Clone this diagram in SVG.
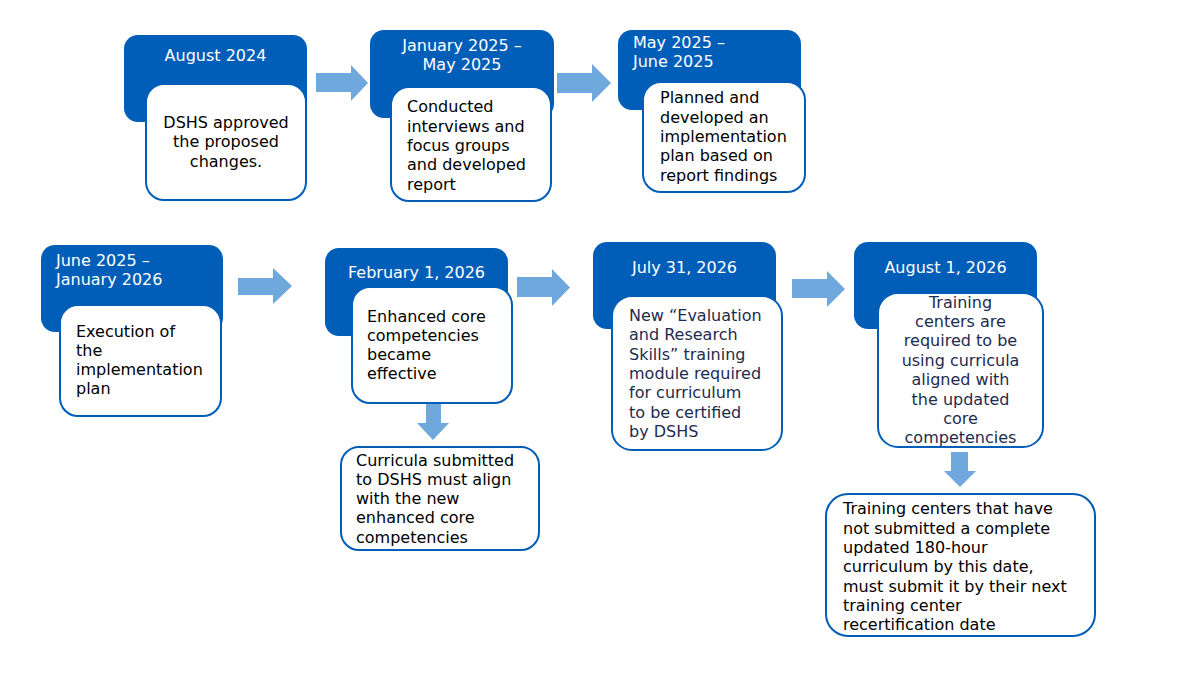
<svg xmlns="http://www.w3.org/2000/svg" width="1182" height="674" viewBox="0 0 1182 674">
<style>
.hdr{fill:#005EB8;}
.box{fill:#FFFFFF;stroke:#005EB8;stroke-width:2;}
.arr{fill:#6FA8DC;}
text{font-family:"DejaVu Sans","Verdana","Liberation Sans",sans-serif;font-size:16px;}
.t{fill:#FFFFFF;}
.b{fill:#000000;}
.n{fill:#1D2B4F;}
.c{text-anchor:middle;}
</style>
<rect width="1182" height="674" fill="#FFFFFF"/>
<g id="connectors">
<polygon class="arr" points="316,73 351,73 351,65 368,83 351,101 351,92 316,92"/>
<polygon class="arr" points="557,73 592,73 592,64 611,83 592,102 592,93 557,93"/>
<polygon class="arr" points="238,278 273,278 273,268 292,286 273,304 273,295 238,295"/>
<polygon class="arr" points="517,277 552,277 552,269 570,287.5 552,306 552,297 517,297"/>
<polygon class="arr" points="792,279 827,279 827,271 845,289 827,307 827,298 792,298"/>
<polygon class="arr" points="426,404 441,404 441,423 449,423 433,440 417,423 426,423"/>
<polygon class="arr" points="951,452 968,452 968,471 976,471 960,487 944,471 951,471"/>
</g>
<g id="node-aug2024">
<rect class="hdr" x="124" y="35" width="183" height="87" rx="14"/>
<rect class="box" x="146" y="84" width="160" height="116" rx="18"/>
<text class="t c" x="215.5" y="61">August 2024</text>
<text class="b c" x="226"><tspan x="226" y="128">DSHS approved</tspan><tspan x="226" y="147.3">the proposed</tspan><tspan x="226" y="166.6">changes.</tspan></text>
</g>
<g id="node-jan2025">
<rect class="hdr" x="370" y="30" width="184" height="88" rx="14"/>
<rect class="box" x="391" y="87" width="160" height="114" rx="18"/>
<text class="t c"><tspan x="462" y="51">January 2025 –</tspan><tspan x="462" y="70">May 2025</tspan></text>
<text class="b"><tspan x="407" y="112.3">Conducted</tspan><tspan x="407" y="131.6">interviews and</tspan><tspan x="407" y="151">focus groups</tspan><tspan x="407" y="170.3">and developed</tspan><tspan x="407" y="189.6">report</tspan></text>
</g>
<g id="node-may2025">
<rect class="hdr" x="618" y="30" width="183" height="80" rx="14"/>
<rect class="box" x="643" y="82" width="162" height="110" rx="18"/>
<text class="t"><tspan x="633" y="48">May 2025 –</tspan><tspan x="633" y="67">June 2025</tspan></text>
<text class="b"><tspan x="660" y="103.3">Planned and</tspan><tspan x="660" y="122.6">developed an</tspan><tspan x="660" y="142">implementation</tspan><tspan x="660" y="161.3">plan based on</tspan><tspan x="660" y="180.6">report findings</tspan></text>
</g>
<g id="node-jun2025">
<rect class="hdr" x="41" y="245" width="182" height="87" rx="14"/>
<rect class="box" x="60" y="305" width="161" height="111" rx="18"/>
<text class="t"><tspan x="56" y="266">June 2025 –</tspan><tspan x="56" y="285">January 2026</tspan></text>
<text class="b"><tspan x="76" y="336.5">Execution of</tspan><tspan x="76" y="355.8">the</tspan><tspan x="76" y="375.1">implementation</tspan><tspan x="76" y="394.4">plan</tspan></text>
</g>
<g id="node-feb2026">
<rect class="hdr" x="325" y="248" width="183" height="88" rx="14"/>
<rect class="box" x="352" y="287" width="160" height="116" rx="18"/>
<text class="t c" x="416.5" y="278">February 1, 2026</text>
<text class="b"><tspan x="367" y="321.5">Enhanced core</tspan><tspan x="367" y="340.8">competencies</tspan><tspan x="367" y="360.1">became</tspan><tspan x="367" y="379.4">effective</tspan></text>
</g>
<g id="node-curricula">
<rect class="box" x="341" y="447" width="198" height="103" rx="18"/>
<text class="b"><tspan x="356" y="465.5">Curricula submitted</tspan><tspan x="356" y="484.8">to DSHS must align</tspan><tspan x="356" y="504.1">with the new</tspan><tspan x="356" y="523.4">enhanced core</tspan><tspan x="356" y="542.7">competencies</tspan></text>
</g>
<g id="node-jul2026">
<rect class="hdr" x="593" y="242" width="183" height="87" rx="14"/>
<rect class="box" x="612" y="296" width="170" height="154" rx="20"/>
<text class="t c" x="684.5" y="273">July 31, 2026</text>
<text class="n"><tspan x="629" y="321">New “Evaluation</tspan><tspan x="629" y="340.3">and Research</tspan><tspan x="629" y="359.6">Skills” training</tspan><tspan x="629" y="378.9">module required</tspan><tspan x="629" y="398.2">for curriculum</tspan><tspan x="629" y="417.5">to be certified</tspan><tspan x="629" y="436.8">by DSHS</tspan></text>
</g>
<g id="node-aug2026">
<rect class="hdr" x="854" y="242" width="183" height="87" rx="14"/>
<rect class="box" x="878" y="293" width="165" height="154" rx="20"/>
<text class="t c" x="945.5" y="273">August 1, 2026</text>
<text class="n c"><tspan x="960.5" y="307.7">Training</tspan><tspan x="960.5" y="327.1">centers are</tspan><tspan x="960.5" y="346.4">required to be</tspan><tspan x="960.5" y="365.8">using curricula</tspan><tspan x="960.5" y="385.2">aligned with</tspan><tspan x="960.5" y="404.5">the updated</tspan><tspan x="960.5" y="423.9">core</tspan><tspan x="960.5" y="443.3">competencies</tspan></text>
</g>
<g id="node-training-centers">
<rect class="box" x="826" y="494" width="269" height="142" rx="22"/>
<text class="b"><tspan x="843" y="514.3">Training centers that have</tspan><tspan x="843" y="533.6">not submitted a complete</tspan><tspan x="843" y="552.9">updated 180-hour</tspan><tspan x="843" y="572.2">curriculum by this date,</tspan><tspan x="843" y="591.5">must submit it by their next</tspan><tspan x="843" y="610.8">training center</tspan><tspan x="843" y="630.1">recertification date</tspan></text>
</g>
</svg>
